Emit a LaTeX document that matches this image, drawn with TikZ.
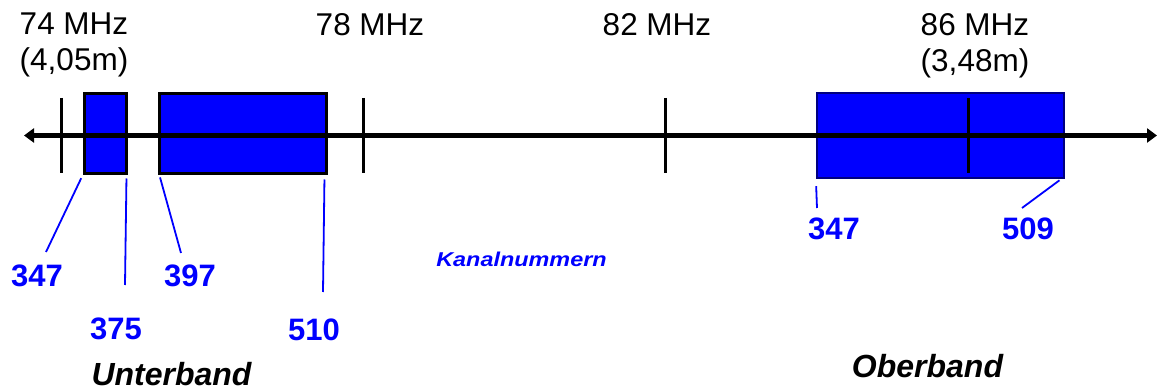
\documentclass[tikz,border=0pt]{standalone}
\usepackage{fontspec}
\setmainfont{Liberation Sans}
\usepackage{graphicx}
\usepackage{tikz}
\usetikzlibrary{arrows.meta}
\definecolor{bandblue}{RGB}{0,0,255}
\definecolor{bandnavy}{RGB}{0,0,128}
\tikzset{
  band/.style={fill=bandblue, draw=black, line width=3pt, inner sep=0pt},
  freq/.style={font=\fontsize{31.5}{36}\selectfont, align=center, anchor=north, inner sep=0pt},
  chan/.style={text=bandblue, font=\fontsize{31}{36}\selectfont\bfseries, anchor=base, inner sep=0pt},
  lead/.style={draw=bandblue, line width=1.8pt},
  subband/.style={font=\fontsize{32}{36}\selectfont\bfseries\itshape, anchor=base, inner sep=0pt},
  axis/.style={line width=5pt, {Triangle[length=10pt,width=14pt]}-{Triangle[length=10pt,width=14pt]}},
  tick mark/.style={line width=3pt}}

\begin{document}
\begin{tikzpicture}[x=1pt, y=-1pt]
  \useasboundingbox (0,0) rectangle (1160,390);
  % Baender
  \node[band, minimum width=42pt, minimum height=80pt]  (b_1) at (105,134)   {};
  \node[band, minimum width=167pt, minimum height=80pt] (b_2) at (242.5,134) {};
  \node[band, draw=bandnavy, line width=2.2pt, minimum width=247pt, minimum height=85pt] (b_3) at (940.5,135.5) {};
  % Frequenzen
  \node[freq] (f_74) at (74,13)  {74 MHz\\(4,05m)};
  \node[freq] (f_78) at (370,13) {78 MHz};
  \node[freq] (f_82) at (657,13) {82 MHz};
  \node[freq] (f_86) at (975,13) {86 MHz\\(3,48m)};
  % Kanalnummern
  \node[chan] (c_347) at (37,287)   {347};
  \node[chan] (c_375) at (116,339)  {375};
  \node[chan] (c_397) at (190,287)  {397};
  \node[chan] (c_510) at (314,340)  {510};
  \node[chan] (c_347o) at (834,240) {347};
  \node[chan] (c_509) at (1028,240) {509};
  \node[chan, font=\fontsize{20}{24}\selectfont\bfseries\itshape] (kanal) at (521.5,267) {\scalebox{1.17}[1]{Kanalnummern}};
  \node[subband] (unter) at (171.5,385) {Unterband};
  \node[subband] (ober)  at (927.5,377) {Oberband};
  \coordinate (e_347)  at (46,252);
  \coordinate (e_375)  at (125,285);
  \coordinate (e_397)  at (181,253);
  \coordinate (e_510)  at (323,292);
  \coordinate (e_347o) at (817,208);
  \coordinate (e_509)  at (1022,208);
  \draw[lead, shorten <=3pt] (b_1.south west) -- (e_347);
  \draw[lead, shorten <=3pt] ([xshift=-1pt]b_1.south east) -- (e_375);
  \draw[lead, shorten <=2pt] ([xshift=2pt]b_2.south west) -- (e_397);
  \draw[lead, shorten <=4pt] ([xshift=-3pt]b_2.south east) -- (e_510);
  \draw[lead, shorten <=7pt] (b_3.south west) -- (e_347o);
  \draw[lead, shorten <=2pt] ([xshift=-4pt]b_3.south east) -- (e_509);
  % Achse
  \coordinate (ax_l) at (24,135.5);
  \coordinate (ax_r) at (1157,135.5);
  \draw[axis] (ax_l) -- (ax_r);
  \foreach \x in {61,363,665,968}
    \draw[tick mark] (\x,98) -- (\x,173);
\end{tikzpicture}
\end{document}
